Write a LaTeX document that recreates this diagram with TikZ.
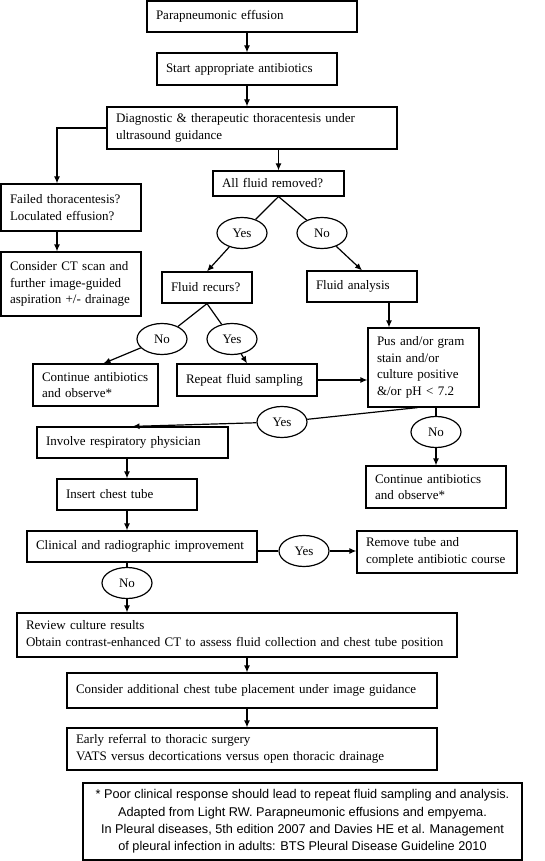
\documentclass[tikz,border=0pt]{standalone}
\usepackage{fontspec}
\setmainfont{Liberation Serif}
\newfontfamily\notefont{Liberation Sans}
\usetikzlibrary{arrows.meta,shapes.geometric}

\begin{document}
\begin{tikzpicture}[x=1pt, y=-1pt,
  box/.style={draw, line width=1.2pt, inner xsep=9pt, inner ysep=2pt,
    align=left, font=\fontsize{13}{16.5}\selectfont},
  choice/.style={draw, ellipse, line width=1.2pt, minimum width=50pt,
    minimum height=31pt, inner sep=0pt, font=\fontsize{13}{16}\selectfont},
  link/.style={line width=1.2pt},
  arr/.style={line width=1.2pt, -{Latex[length=7pt,width=6pt]}}]

  \useasboundingbox (0,0) rectangle (545,861);

  % main column
  \node[box, text width=192pt, minimum height=31pt] (para) at (252,16.5) {Parapneumonic effusion};
  \node[box, text width=162pt, minimum height=32pt] (start) at (247,69) {Start appropriate antibiotics};
  \node[box, text width=272pt, minimum height=42pt] (diag) at (252,128)
    {Diagnostic \& therapeutic thoracentesis under\\ultrasound guidance};
  \node[box, text width=113pt, minimum height=25pt] (allfluid) at (278.5,183.5) {All fluid removed?};

  % left branch
  \node[box, text width=122pt, minimum height=47pt] (failed) at (71,207.5)
    {Failed thoracentesis?\\Loculated effusion?};
  \node[box, text width=122pt, minimum height=64pt] (consct) at (71,284)
    {Consider CT scan and\\further image-guided\\aspiration +/- drainage};

  % yes / no after removal
  \node[choice] (yes1) at (242,233) {Yes};
  \node[choice] (no1) at (322,233) {No};
  \node[box, text width=72pt, minimum height=31pt] (recur) at (207,287.5) {Fluid recurs?};
  \node[box, text width=92pt, minimum height=31pt] (analysis) at (362,286.5) {Fluid analysis};
  \node[choice] (no2) at (162,339) {No};
  \node[choice] (yes2) at (232,339) {Yes};
  \node[box, text width=107pt, minimum height=42pt] (cont1) at (95.5,385)
    {Continue antibiotics\\and observe*};
  \node[box, text width=122pt, minimum height=32pt] (repeat) at (247,380) {Repeat fluid sampling};
  \node[box, text width=93pt, minimum height=79pt] (pus) at (423.5,367.5)
    {Pus and/or gram\\stain and/or\\culture positive\\\&/or pH < 7.2};

  % after pus
  \node[choice] (yes3) at (282,422) {Yes};
  \node[choice] (no3) at (436,432) {No};
  \node[box, text width=173pt, minimum height=31pt] (involve) at (132.5,442.5) {Involve respiratory physician};
  \node[box, text width=122pt, minimum height=42pt] (cont2) at (436,487)
    {Continue antibiotics\\and observe*};
  \node[box, text width=122pt, minimum height=31pt] (insert) at (127,494.5) {Insert chest tube};
  \node[box, text width=212pt, minimum height=31pt] (clinical) at (142,546.5) {Clinical and radiographic improvement};
  \node[choice] (yes4) at (304,551) {Yes};
  \node[box, text width=142pt, minimum height=42pt] (remove) at (437,552)
    {Remove tube and\\complete antibiotic course};
  \node[choice] (no4) at (127,583) {No};

  % bottom column
  \node[box, text width=422pt, minimum height=44pt] (review) at (237,635)
    {Review culture results\\Obtain contrast-enhanced CT to assess fluid collection and chest tube position};
  \node[box, text width=352pt, minimum height=35pt] (consider) at (252,690.5)
    {Consider additional chest tube placement under image guidance};
  \node[box, text width=352pt, minimum height=42pt] (early) at (252,749)
    {Early referral to thoracic surgery\\VATS versus decortications versus open thoracic drainage};

  \node[draw, line width=1.2pt, minimum width=439pt, minimum height=77pt, align=center,
        font=\notefont\fontsize{12.7}{17.3}\selectfont] (note) at (302.5,821.5)
    {* Poor clinical response should lead to repeat fluid sampling and analysis.\\
     Adapted from Light RW. Parapneumonic effusions and empyema.\\
     In Pleural diseases, 5th edition 2007 and Davies HE et al. Management\\
     of pleural infection in adults: BTS Pleural Disease Guideline 2010};

  % connectors
  \draw[arr] (para.south -| start) -- (start.north);
  \draw[arr] (start.south) -- (start.south |- diag.north);
  \draw[arr] (diag.west) -| ([xshift=-14pt]failed.north);
  \draw[arr] ([xshift=-14pt]failed.south) -- ([xshift=-14pt]consct.north);
  \draw[arr] (diag.south -| allfluid) -- (allfluid.north);
  \draw[link] (allfluid.south) -- (yes1);
  \draw[link] (allfluid.south) -- (no1);
  \draw[arr] (yes1) -- (recur.north);
  \draw[arr] (no1) -- (analysis.north);
  \draw[arr] ([xshift=27pt]analysis.south) -- ([xshift=27pt]analysis.south |- pus.north);
  \draw[link] (recur.south) -- (no2);
  \draw[link] (recur.south) -- (yes2);
  \draw[arr] (no2) -- ([xshift=8pt]cont1.north);
  \draw[arr] (yes2) -- (repeat.north);
  \draw[arr] (repeat.east) -- (repeat.east -| pus.west);
  \draw[link] ([xshift=-6pt]pus.south) -- (yes3);
  \draw[arr] (yes3) -- (involve.north);
  \draw[link] (pus.south -| no3) -- (no3);
  \draw[arr] (no3) -- (no3 |- cont2.north);
  \draw[arr] (insert.north |- involve.south) -- (insert.north);
  \draw[arr] (insert.south) -- (insert.south |- clinical.north);
  \draw[link] (clinical.east |- yes4) -- (yes4);
  \draw[arr] (yes4) -- (yes4 -| remove.west);
  \draw[link] (no4 |- clinical.south) -- (no4);
  \draw[arr] (no4) -- (no4 |- review.north);
  \draw[arr] (review.south -| start) -- (consider.north -| start);
  \draw[arr] (consider.south -| start) -- (early.north -| start);
\end{tikzpicture}
\end{document}
